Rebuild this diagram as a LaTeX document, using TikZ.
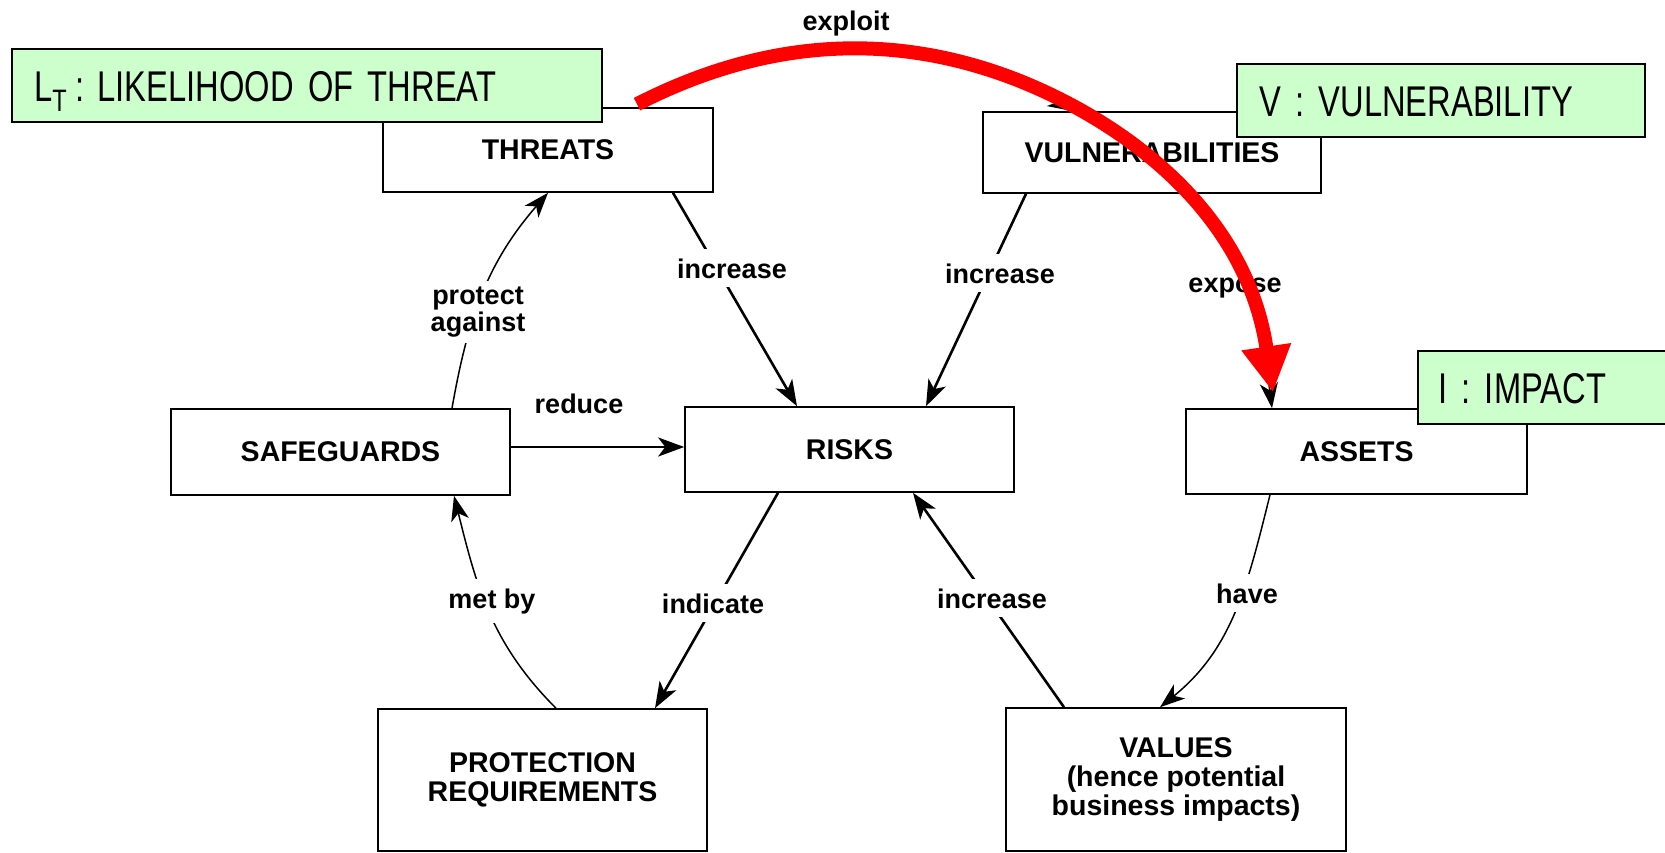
\documentclass[tikz,border=0pt]{standalone}
\usepackage{fontspec}
\setmainfont{Liberation Sans}
\newfontfamily\tagfont[FakeStretch=0.76]{Liberation Sans}
\usetikzlibrary{arrows.meta,calc}
\definecolor{tagfill}{HTML}{CCFFCC}

\begin{document}
\begin{tikzpicture}[x=1pt,y=1pt,
  box/.style={draw=black, line width=1.6pt, fill=white, inner sep=0pt,
    font=\fontsize{28.5}{29}\selectfont\bfseries, align=center},
  lbl/.style={fill=white, inner xsep=4pt, inner ysep=9pt,
    font=\fontsize{27}{27}\selectfont\bfseries, align=center},
  link/.style={line width=2.6pt, -{Stealth[length=26pt,width=19pt,inset=7pt]}},
  thinlink/.style={line width=1.5pt, -{Stealth[length=25pt,width=18pt,inset=7pt]}},
  tag/.style={draw=black, line width=2.2pt, fill=tagfill, anchor=north west,
    minimum height=73pt, align=left, inner xsep=22pt, inner ysep=0pt,
    text height=31pt, text depth=0pt, font=\tagfont\fontsize{43}{43}\selectfont},
  hot/.style={draw=red, line width=14pt, -{Triangle[length=46pt,width=47pt]}}
]
\useasboundingbox (0,0) rectangle (1665,-852);

% concept boxes
\node[box, minimum width=330pt, minimum height=84pt] (threats) at (548,-150) {THREATS};
\node[box, minimum width=338pt, minimum height=81pt] (vuln) at (1152,-152.5) {VULNERABILITIES};
\node[box, minimum width=339pt, minimum height=86pt] (safeg) at (340.5,-452) {SAFEGUARDS};
\node[box, minimum width=329pt, minimum height=85pt] (risks) at (849.5,-449.5) {RISKS};
\node[box, minimum width=341pt, minimum height=85pt] (assets) at (1356.5,-451.5) {ASSETS};
\node[box, minimum width=329pt, minimum height=142pt] (protreq) at (542.5,-780) {PROTECTION\\REQUIREMENTS};
\node[box, minimum width=340pt, minimum height=143pt] (values) at (1176,-779.5)
  {VALUES\\(hence potential\\business impacts)};

% relations
\draw[link] ([xshift=125pt]threats.south) -- ([xshift=-52.5pt]risks.north);
\draw[link] ([xshift=-126pt]vuln.south) -- ([xshift=76.5pt]risks.north);
\draw[link] ([yshift=5pt]safeg.east) -- ([yshift=5pt]safeg.east -| risks.west);
\draw[thinlink] ([xshift=111.5pt]safeg.north) to[out=80,in=229] (threats.south);
\draw[thinlink] ([xshift=13.5pt]protreq.north) to[out=135,in=284] ([xshift=113.5pt]safeg.south);
\draw[link] ([xshift=-71.5pt]risks.south) -- ([xshift=112.5pt]protreq.north);
\draw[link] ([xshift=-112pt]values.north) -- ([xshift=63.5pt]risks.south);
\draw[thinlink] ([xshift=-86.5pt]assets.south) to[out=256,in=39] ([xshift=-16pt]values.north);

% ends of the exploit / expose arcs that run under the red arrow
\coordinate (exploitfrom) at (1036,-89);
\draw[thinlink] (exploitfrom) -- ([xshift=-79pt]vuln.north);
\coordinate (exposefrom) at (1262,-330);
\draw[thinlink] (exposefrom) -- ([xshift=-84.5pt]assets.north);

% relation labels
\node[lbl, anchor=base] (lbl-inc1) at (732,-278) {increase};
\node[lbl, anchor=base] (lbl-inc2) at (1000,-283) {increase};
\node[lbl, anchor=base] (lbl-expose) at (1235,-292) {expose};
\node[lbl, inner ysep=6pt] (lbl-protect) at (478,-312) {protect\\against};
\node[lbl, anchor=base] (lbl-reduce) at (579,-413) {reduce};
\node[lbl, anchor=base] (lbl-met) at (492,-608) {met by};
\node[lbl, anchor=base] (lbl-indicate) at (713,-613) {indicate};
\node[lbl, anchor=base] (lbl-inc3) at (992,-608) {increase};
\node[lbl, anchor=base] (lbl-have) at (1247,-603) {have};
\node[lbl, anchor=base, inner ysep=2pt] (lbl-exploit) at (846,-30) {exploit};

% risk-factor tags
\node[tag, text width=546pt] (lt) at (11,-48)
  {L\raisebox{-10pt}{\fontsize{31}{31}\selectfont T}\hspace{9pt}:\hspace{13pt}LIKELIHOOD OF THREAT};
\node[tag, text width=364pt] (vt) at (1236,-63) {V : VULNERABILITY};
\node[tag, inner xsep=20pt, text width=230pt] (it) at (1417,-350) {I : IMPACT};

% threat exploits vulnerability, exposing the asset
\coordinate (bend) at (1020,-81);
\draw[hot] ([xshift=89pt,yshift=3pt]threats.north)
  .. controls (761.2,-40.5) and (889.8,-29.2) .. (bend)
  .. controls (1122,-122) and (1246,-210) .. ([xshift=-83.5pt,yshift=16pt]assets.north);
\end{tikzpicture}
\end{document}
